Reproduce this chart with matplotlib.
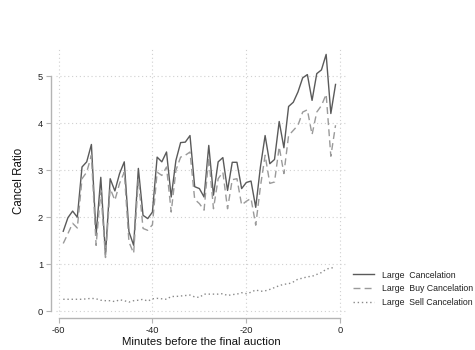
import matplotlib
matplotlib.use("Agg")
import matplotlib.pyplot as plt
import numpy as np

minutes = list(range(-59, 0))

large_cancel = [1.70, 1.99, 2.13, 2.00, 3.07, 3.18, 3.55, 1.62, 2.85, 1.19,
                2.82, 2.56, 2.93, 3.18, 1.69, 1.40, 3.04, 2.04, 1.97, 2.11,
                3.28, 3.18, 3.39, 2.43, 3.21, 3.59, 3.60, 3.74, 2.65, 2.61,
                2.43, 3.53, 2.47, 3.18, 3.27, 2.57, 3.17, 3.17, 2.61, 2.74,
                2.77, 2.21, 3.07, 3.74, 3.14, 3.23, 4.04, 3.48, 4.36, 4.45,
                4.67, 4.97, 5.04, 4.49, 5.06, 5.14, 5.47, 4.21, 4.83]

buy_cancel = [1.44, 1.65, 1.87, 1.77, 2.82, 2.96, 3.32, 1.40, 2.57, 1.14,
              2.61, 2.36, 2.72, 2.96, 1.47, 1.23, 2.82, 1.76, 1.72, 1.84,
              2.96, 2.89, 3.07, 2.11, 3.00, 3.28, 3.32, 3.39, 2.38, 2.29,
              2.15, 3.28, 2.18, 2.82, 2.96, 2.18, 2.80, 2.82, 2.26, 2.34,
              2.40, 1.83, 2.65, 3.32, 2.72, 2.75, 3.50, 2.93, 3.74, 3.85,
              3.96, 4.24, 4.29, 3.76, 4.24, 4.38, 4.62, 3.30, 3.96]

sell_cancel = [0.25, 0.25, 0.25, 0.25, 0.25, 0.26, 0.27, 0.26, 0.23, 0.22,
               0.22, 0.20, 0.24, 0.22, 0.19, 0.22, 0.23, 0.25, 0.21, 0.26,
               0.27, 0.26, 0.25, 0.31, 0.31, 0.32, 0.33, 0.34, 0.30, 0.29,
               0.36, 0.36, 0.36, 0.36, 0.37, 0.33, 0.35, 0.36, 0.39, 0.37,
               0.40, 0.45, 0.42, 0.43, 0.46, 0.50, 0.54, 0.57, 0.58, 0.62,
               0.68, 0.70, 0.73, 0.74, 0.78, 0.82, 0.89, 0.92, 0.92]

xticks = [-60, -40, -20, 0]
yticks = [0, 1, 2, 3, 4, 5]

plt.rcParams['font.family'] = ['Liberation Sans', 'DejaVu Sans']

fig = plt.figure(figsize=(4.75, 3.5), dpi=100)
ax = fig.add_axes([0.118, 0.10, 0.613, 0.766])

ax.plot(minutes, large_cancel, color='#5a5a5a', lw=1.0, ls='-', label='Large  Cancelation')
ax.plot(minutes, buy_cancel, color='#9a9a9a', lw=1.0, ls=(0, (5, 3)), label='Large  Buy Cancelation')
ax.plot(minutes, sell_cancel, color='#8a8a8a', lw=1.0, ls=(0, (1, 2)), label='Large  Sell Cancelation')

ax.set_xlim(-60.53, 1.49)
ax.set_ylim(-0.085, 5.63)
ax.set_xticks(xticks)
ax.set_yticks(yticks)
ax.set_xticklabels([str(t) for t in xticks])
ax.set_yticklabels([str(t) for t in yticks])

ax.grid(True, color='#d0d0d0', ls=(0, (1, 2.5)), lw=0.8)
ax.set_axisbelow(True)

for s in ['top', 'right']:
    ax.spines[s].set_visible(False)
ax.spines['left'].set_position(('outward', 3.8))
ax.spines['bottom'].set_position(('outward', 2.2))
ax.spines['left'].set_bounds(0, 5)
ax.spines['bottom'].set_bounds(-60, 0)
for s in ['left', 'bottom']:
    ax.spines[s].set_color('#b4b4b4')
    ax.spines[s].set_linewidth(1.0)
ax.tick_params(axis='both', colors='#b4b4b4', labelcolor='#222222', labelsize=6.7, length=3.5, width=0.8)
ax.tick_params(axis='x', pad=2.5)
ax.tick_params(axis='y', pad=2)

ax.set_xlabel('Minutes before the final auction', fontsize=8.2, color='#111111', labelpad=1.5)
ax.set_ylabel('Cancel Ratio', fontsize=8.3, color='#111111', labelpad=9)

leg = fig.legend(loc='upper left', bbox_to_anchor=(0.735, 0.237), frameon=False,
                 fontsize=6.3, handlelength=2.4, handletextpad=1.0, labelspacing=0.55,
                 borderaxespad=0)
for t in leg.get_texts():
    t.set_color('#222222')

fig.savefig('out.png', dpi=100, facecolor='white')
